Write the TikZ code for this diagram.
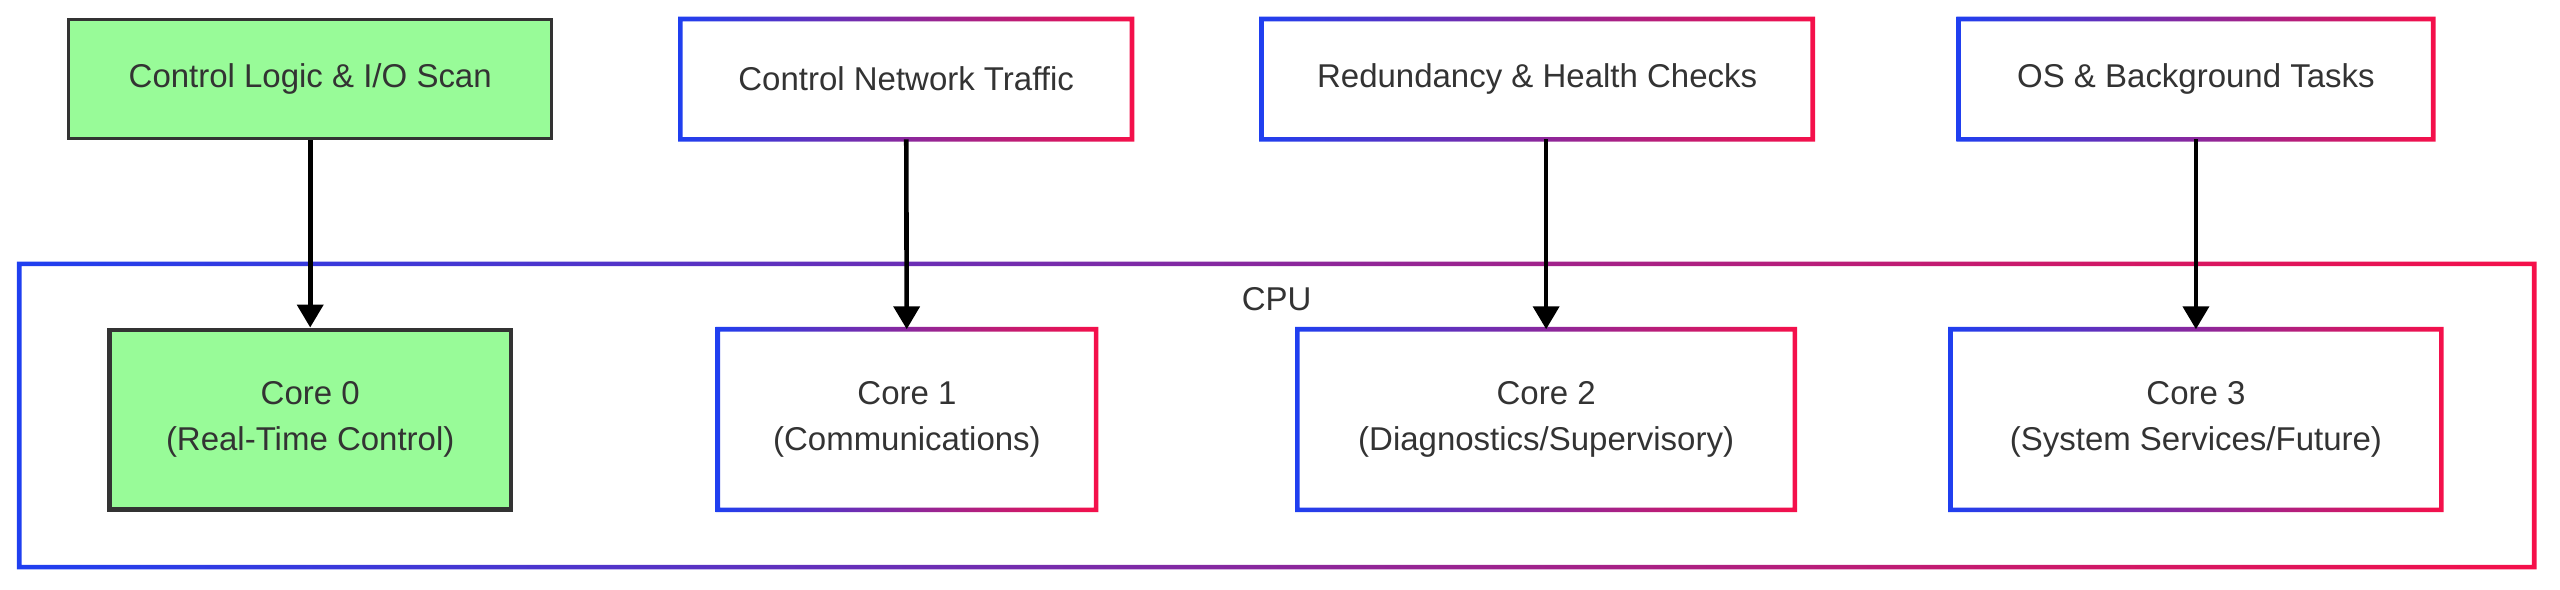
\documentclass[tikz,border=0pt]{standalone}
\usepackage{fontspec}
\setmainfont{Liberation Sans}
\usepackage{xcolor}
\usetikzlibrary{arrows.meta, positioning, calc}
\definecolor{gblue}{HTML}{1F3FF0}
\definecolor{gred}{HTML}{F5104A}
\definecolor{pgreen}{HTML}{98FB98}
\tikzstyle{task} = [rectangle, minimum height=1.46cm, text centered, align=center, fill=white, font=\fontsize{11.5}{16}\selectfont, text=black!80]
\tikzstyle{core} = [task, minimum height=2.2cm]
\tikzstyle{green} = [fill=pgreen, draw=black!80, line width=1pt]
\tikzstyle{arrow} = [line width=1.6pt, -{Triangle[length=8pt, width=9pt]}]
\newcommand{\gradbox}[1]{%
  \shade[even odd rule, left color=gblue, right color=gred]
    ($(#1.south west)+(-0.8pt,-0.8pt)$) rectangle ($(#1.north east)+(0.8pt,0.8pt)$)
    ($(#1.south west)+(0.8pt,0.8pt)$) rectangle ($(#1.north east)+(-0.8pt,-0.8pt)$);}

\begin{document}
\begin{tikzpicture}[x=0.02cm, y=-0.02cm]
    \useasboundingbox (0,0) rectangle (1568,361);
    % CPU container
    \node[task, minimum width=30.8cm, minimum height=3.7cm] (cpu) at (782,254.5) {};
    \gradbox{cpu}
    \node[font=\fontsize{11.5}{13}\selectfont, text=black!80] (cpulabel) at (782,183) {CPU};

    % Task sources
    \node[task, green, minimum width=5.92cm] (logic) at (190,48.5) {Control Logic \& I/O Scan};
    \node[task, minimum width=5.52cm] (net) at (555,48.5) {Control Network Traffic};
    \node[task, minimum width=6.74cm] (health) at (941.5,48.5) {Redundancy \& Health Checks};
    \node[task, minimum width=5.8cm] (os) at (1345,48.5) {OS \& Background Tasks};

    % Cores
    \node[core, green, line width=1.6pt, minimum width=4.92cm] (core0) at (190,257) {Core 0\\(Real-Time Control)};
    \node[core, minimum width=4.62cm] (core1) at (555.5,257) {Core 1\\(Communications)};
    \node[core, minimum width=6.08cm] (core2) at (947,257) {Core 2\\(Diagnostics/Supervisory)};
    \node[core, minimum width=6.0cm] (core3) at (1345,257) {Core 3\\(System Services/Future)};

    \foreach \n in {net, health, os, core1, core2, core3} {\gradbox{\n}}

    % Connections
    \draw[arrow] (logic) -- (core0);
    \draw[arrow] (net) -- (core1);
    \draw[arrow] (health.south -| core2) -- (core2);
    \draw[arrow] (os) -- (core3);
\end{tikzpicture}
\end{document}
